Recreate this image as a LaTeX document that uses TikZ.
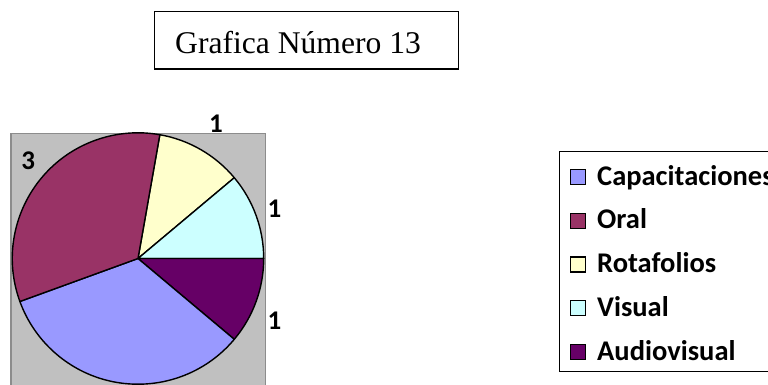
\documentclass[tikz,border=0pt]{standalone}
\usepackage{fontspec}
\setmainfont{Liberation Serif}
\newfontfamily\calib{Carlito}
\definecolor{capc}{HTML}{9999FF}
\definecolor{oralc}{HTML}{993366}
\definecolor{rotac}{HTML}{FFFFCC}
\definecolor{visc}{HTML}{CCFFFF}
\definecolor{audc}{HTML}{660066}
\definecolor{plotgray}{HTML}{C0C0C0}
\definecolor{plotborder}{HTML}{8C8C8C}
\tikzset{
  slice/.style={draw=black, line width=1.4pt, line join=round},
  lbl/.style={font=\calib\bfseries\fontsize{27}{32}\selectfont, inner sep=0pt},
  legtext/.style={font=\calib\bfseries\fontsize{28.5}{34}\selectfont, anchor=base west, inner sep=0pt},
  swatch/.style={draw=black, line width=1.3pt, minimum size=15pt, inner sep=0pt},
}
\begin{document}
\begin{tikzpicture}[x=1pt,y=1pt]
\path[use as bounding box] (0,0) rectangle (768,-385);
\clip (0,0) rectangle (768,-385);
% title
\node[draw=black, line width=1.3pt, minimum width=304pt, minimum height=57.3pt, inner sep=0pt] (titlebox) at (306.3,-40.3) {};
\node[anchor=base west, inner sep=0pt, font=\fontsize{31.6}{36}\selectfont] (titletext) at (175,-53.3) {Grafica Número 13};
% plot area
\draw[fill=plotgray, draw=plotborder, line width=1.2pt] (11,-133.3) rectangle (265.7,-400);
% pie
\coordinate (O) at (138,-258.5);
\def\R{125.7}
\filldraw[slice, fill=rotac] (O) -- ++(80:\R) arc (80:40:\R) -- cycle;
\filldraw[slice, fill=visc] (O) -- ++(40:\R) arc (40:0:\R) -- cycle;
\filldraw[slice, fill=audc] (O) -- ++(0:\R) arc (0:-40:\R) -- cycle;
\filldraw[slice, fill=capc] (O) -- ++(-40:\R) arc (-40:-160:\R) -- cycle;
\filldraw[slice, fill=oralc] (O) -- ++(200:\R) arc (200:80:\R) -- cycle;
% data labels
\node[lbl] (l3) at (28.3,-161) {3};
\node[lbl] (l1a) at (216,-124) {1};
\node[lbl] (l1b) at (274.5,-209) {1};
\node[lbl] (l1c) at (274.5,-320.5) {1};
% legend
\draw[black, line width=1.2pt] (559.3,-151.7) rectangle (800,-371.7);
\node[swatch, fill=capc] (s1) at (578,-177) {};
\node[swatch, fill=oralc] (s2) at (578,-220.7) {};
\node[swatch, fill=rotac] (s3) at (578,-264.5) {};
\node[swatch, fill=visc] (s4) at (578,-308.2) {};
\node[swatch, fill=audc] (s5) at (578,-352) {};
\node[legtext] (t1) at (597,-185) {Capacitaciones};
\node[legtext] (t2) at (597,-228.7) {Oral};
\node[legtext] (t3) at (597,-272.5) {Rotafolios};
\node[legtext] (t4) at (597,-316.2) {Visual};
\node[legtext] (t5) at (597,-360) {Audiovisual};
\end{tikzpicture}
\end{document}
